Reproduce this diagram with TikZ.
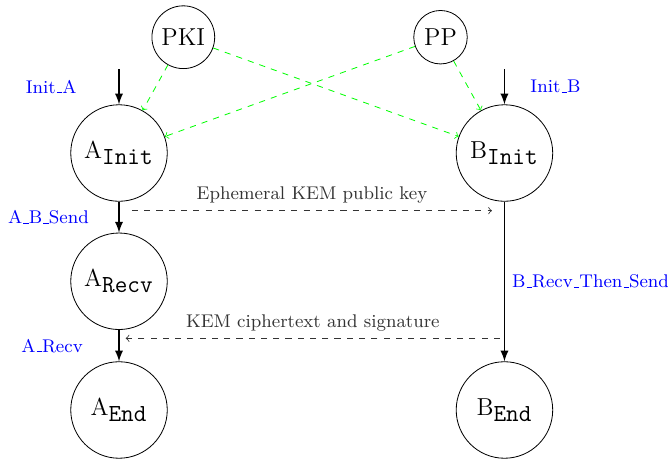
\documentclass[tikz,border=0pt]{standalone}
\usepgflibrary{arrows}
\renewcommand{\_}{\leavevmode\kern.06em\vbox{\hrule width.3em}}

\begin{document}
\begin{tikzpicture}[
  zustand/.style={draw, circle, minimum size=1.66cm, inner sep=0pt, font=\large},
  quelle/.style={draw, circle, inner sep=3pt, font=\large},
  uebergang/.style={thick, -latex},
  nachricht/.style={dashed, ->, black!80},
  bezug/.style={dashed, ->, green},
  etikett/.style={text=blue, font=\small}
]

\useasboundingbox (0,0) rectangle (11.49,-7.946);

% Zustaende
\node[zustand] (A_Init) at (2.047,-2.632) {$\mathrm{A}_{\texttt{Init}}$};
\node[zustand] (A_Recv) at (2.047,-4.838) {$\mathrm{A}_{\texttt{Recv}}$};
\node[zustand] (A_End)  at (2.047,-7.052) {$\mathrm{A}_{\texttt{End}}$};
\node[zustand] (B_Init) at (8.677,-2.632) {$\mathrm{B}_{\texttt{Init}}$};
\node[zustand] (B_End)  at (8.677,-7.052) {$\mathrm{B}_{\texttt{End}}$};

% Quellen
\node[quelle] (PKI) at (3.153,-0.640) {PKI};
\node[quelle] (PP)  at (7.577,-0.640) {PP};

\coordinate (start_A) at (2.047,-1.190);
\coordinate (start_B) at (8.677,-1.190);

% Uebergaenge
\draw[uebergang] (start_A) -- node[etikett, left=17pt] {Init\_A} (A_Init);
\draw[uebergang] (start_B) -- node[etikett, right=9pt] {Init\_B} (B_Init);
\draw[uebergang] (A_Init) -- node[etikett, left=11pt] {A\_B\_Send} (A_Recv);
\draw[uebergang] (A_Recv) -- node[etikett, left=14pt] {A\_Recv} (A_End);
\draw[uebergang] (B_Init) -- node[etikett, right] {B\_Recv\_Then\_Send} (B_End);

% Abhaengigkeiten
\draw[bezug] (PKI) -- (A_Init);
\draw[bezug] (PKI) -- (B_Init);
\draw[bezug] (PP) -- (A_Init);
\draw[bezug] (PP) -- (B_Init);

% Nachrichten
\coordinate (eph_A) at (2.270,-3.624);
\coordinate (eph_B) at (8.462,-3.624);
\coordinate (ct_B)  at (8.600,-5.819);
\coordinate (ct_A)  at (2.162,-5.819);

\begin{scope}[font=\small]
  \draw[nachricht] (eph_A) -- node[above] {Ephemeral KEM public key} (eph_B);
  \draw[nachricht] (ct_B) -- node[above] {KEM ciphertext and signature} (ct_A);
\end{scope}

\end{tikzpicture}
\end{document}
